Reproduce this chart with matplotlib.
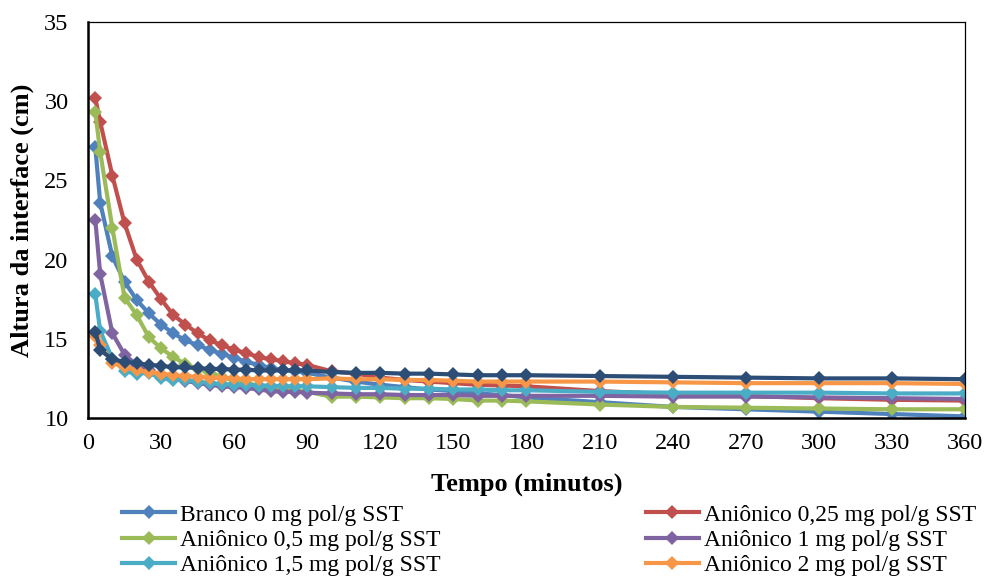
import matplotlib
matplotlib.use("Agg")
import matplotlib.pyplot as plt

plt.rcParams["font.family"] = ["Liberation Serif", "DejaVu Serif"]

# tempo de leitura (minutos)
tempo = [3, 5, 10, 15, 20, 25, 30, 35, 40, 45, 50, 55, 60, 65, 70, 75, 80, 85, 90,
         100, 110, 120, 130, 140, 150, 160, 170, 180, 210, 240, 270, 300, 330, 360]

branco_0 = [27.1, 23.6, 20.2, 18.6, 17.45, 16.6, 15.9, 15.35, 14.9, 14.6, 14.3, 14.05, 13.8, 13.55,
            13.35, 13.15, 13.05, 12.95, 12.85, 12.55, 12.3, 12.1, 11.95, 11.8, 11.7, 11.55, 11.45,
            11.3, 11.0, 10.7, 10.55, 10.4, 10.25, 10.1]
anionico_025 = [30.2, 28.7, 25.3, 22.3, 20.0, 18.6, 17.5, 16.5, 15.9, 15.35, 14.9, 14.6, 14.3, 14.1,
                13.85, 13.7, 13.6, 13.45, 13.35, 12.95, 12.8, 12.55, 12.4, 12.3, 12.2, 12.1, 12.05,
                12.0, 11.7, 11.5, 11.4, 11.25, 11.15, 11.1]
anionico_05 = [29.3, 26.8, 22.0, 17.6, 16.5, 15.1, 14.4, 13.85, 13.4, 13.1, 12.85, 12.6, 12.4, 12.2,
               12.05, 11.9, 11.8, 11.75, 11.65, 11.35, 11.35, 11.3, 11.25, 11.25, 11.2, 11.1, 11.1,
               11.05, 10.85, 10.7, 10.65, 10.6, 10.55, 10.55]
anionico_1 = [22.5, 19.1, 15.35, 14.0, 13.35, 13.0, 12.7, 12.5, 12.35, 12.2, 12.1, 12.0, 11.95, 11.9,
              11.8, 11.7, 11.65, 11.65, 11.6, 11.55, 11.5, 11.5, 11.45, 11.45, 11.45, 11.4, 11.4,
              11.4, 11.4, 11.35, 11.35, 11.3, 11.25, 11.2]
anionico_15 = [17.8, 15.5, 13.75, 12.95, 12.8, 12.85, 12.5, 12.4, 12.4, 12.3, 12.2, 12.15, 12.1, 12.1,
               12.05, 12.05, 12.0, 12.0, 12.0, 11.95, 11.9, 11.9, 11.85, 11.85, 11.8, 11.8, 11.75,
               11.75, 11.65, 11.6, 11.6, 11.6, 11.55, 11.55]
anionico_2 = [15.2, 14.6, 13.5, 13.2, 13.0, 12.9, 12.8, 12.7, 12.65, 12.6, 12.55, 12.5, 12.5, 12.45,
              12.45, 12.45, 12.45, 12.45, 12.45, 12.5, 12.45, 12.45, 12.4, 12.4, 12.35, 12.3, 12.3,
              12.3, 12.3, 12.25, 12.2, 12.2, 12.2, 12.15]
serie_7 = [15.45, 14.3, 13.7, 13.55, 13.45, 13.35, 13.3, 13.2, 13.2, 13.15, 13.1, 13.1, 13.05, 13.05,
           13.0, 13.0, 13.0, 13.0, 13.0, 12.9, 12.85, 12.85, 12.8, 12.8, 12.75, 12.7, 12.7,
           12.7, 12.65, 12.6, 12.55, 12.5, 12.5, 12.45]

series = [
    ("Branco 0 mg pol/g SST", branco_0, "#4F81BD"),
    ("Aniônico 0,25 mg pol/g SST", anionico_025, "#C0504D"),
    ("Aniônico 0,5 mg pol/g SST", anionico_05, "#9BBB59"),
    ("Aniônico 1 mg pol/g SST", anionico_1, "#8064A2"),
    ("Aniônico 1,5 mg pol/g SST", anionico_15, "#4BACC6"),
    ("Aniônico 2 mg pol/g SST", anionico_2, "#F79646"),
    (None, serie_7, "#2C4D75"),
]

fig = plt.figure(figsize=(9.87, 5.79), dpi=100)
ax = fig.add_axes([88 / 987, 1 - 418 / 579, (965 - 88) / 987, (418 - 22) / 579])

handles = {}
for label, values, color in series:
    line, = ax.plot(tempo, values, color=color, lw=3.0, marker="D", markersize=7,
                    markeredgewidth=0, solid_joinstyle="round")
    if label:
        handles[label] = line

ax.set_xlim(0, 360)
ax.set_ylim(10, 35)
ax.set_xticks(range(0, 361, 30))
ax.set_yticks(range(10, 36, 5))
ax.tick_params(axis="x", length=0, pad=10.5, labelsize=17.5)
ax.tick_params(axis="y", length=0, pad=14, labelsize=17.5)
for side in ("left", "bottom"):
    ax.spines[side].set_linewidth(1.8)
for side in ("right", "top"):
    ax.spines[side].set_linewidth(0.9)

ax.set_xlabel("Tempo (minutos)", fontsize=19, fontweight="bold", labelpad=14)
ax.set_ylabel("Altura da interface (cm)", fontsize=19, fontweight="bold", labelpad=7)

order = ["Branco 0 mg pol/g SST", "Aniônico 0,5 mg pol/g SST", "Aniônico 1,5 mg pol/g SST",
         "Aniônico 0,25 mg pol/g SST", "Aniônico 1 mg pol/g SST", "Aniônico 2 mg pol/g SST"]
fig.legend([handles[k] for k in order], order, ncol=2, loc="upper left",
           bbox_to_anchor=(122 / 987, 1 - 504 / 579), frameon=False, fontsize=17,
           borderpad=0, borderaxespad=0, handlelength=2.25, handletextpad=0.2,
           labelspacing=0.16, columnspacing=8.7)

fig.savefig("out.png", dpi=100)
